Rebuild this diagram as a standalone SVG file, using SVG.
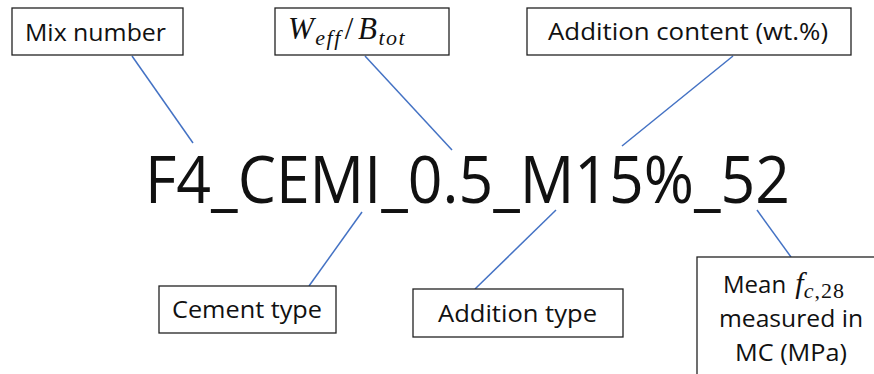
<svg xmlns="http://www.w3.org/2000/svg" width="874" height="374" viewBox="0 0 874 374">
<style>
.box{fill:#fff;stroke:#222;stroke-width:1.3}
.lbl{font-family:"Open Sans","Liberation Sans",sans-serif;font-size:24px;fill:#111}
.math{font-family:"Liberation Serif","DejaVu Serif",serif;font-style:italic;font-weight:normal;fill:#111}
.conn line{stroke:#4472C4;stroke-width:1.5}
</style>
<rect width="874" height="374" fill="#fff"/>
<g class="conn" id="connectors">
<line x1="132" y1="56" x2="193" y2="143"/>
<line x1="365" y1="56" x2="452" y2="150"/>
<line x1="733" y1="56" x2="622" y2="146"/>
<line x1="362" y1="212" x2="309" y2="286"/>
<line x1="556" y1="210" x2="475" y2="289"/>
<line x1="757" y1="210" x2="791" y2="257"/>
</g>
<g id="main">
<text x="145" y="203" font-family="Open Sans, Liberation Sans, sans-serif" font-size="66" fill="#111" textLength="645" lengthAdjust="spacingAndGlyphs">F4_CEMI_0.5_M15%_52</text>
</g>
<g id="mix-number">
<rect class="box" x="12" y="8" width="171" height="47"/>
<text class="lbl" x="25" y="41" textLength="141" lengthAdjust="spacingAndGlyphs">Mix number</text>
</g>
<g id="w-ratio">
<rect class="box" x="275" y="8" width="174" height="47"/>
<text class="math" x="288" y="39" font-size="31" letter-spacing="1.5">W<tspan font-size="22" dy="6">eff</tspan><tspan font-size="31" dy="-6" dx="3" font-style="normal">/</tspan><tspan dx="3">B</tspan><tspan font-size="22" dy="6">tot</tspan></text>
</g>
<g id="addition-content">
<rect class="box" x="527" y="8" width="324" height="47"/>
<text class="lbl" x="548" y="40" textLength="280" lengthAdjust="spacingAndGlyphs">Addition content (wt.%)</text>
</g>
<g id="cement-type">
<rect class="box" x="159" y="286" width="177" height="47"/>
<text class="lbl" x="172" y="318" textLength="150" lengthAdjust="spacingAndGlyphs">Cement type</text>
</g>
<g id="addition-type">
<rect class="box" x="413" y="289" width="210" height="48"/>
<text class="lbl" x="438" y="322" textLength="159" lengthAdjust="spacingAndGlyphs">Addition type</text>
</g>
<g id="mean-fc">
<rect class="box" x="697" y="257" width="190" height="130"/>
<text class="lbl" x="723" y="293">Mean <tspan class="math" font-size="30" dx="3">f</tspan><tspan class="math" font-size="22" dy="5" letter-spacing="1">c</tspan><tspan font-family="Liberation Serif, serif" font-size="22" letter-spacing="1">,28</tspan></text>
<text class="lbl" x="719" y="327" textLength="144" lengthAdjust="spacingAndGlyphs">measured in</text>
<text class="lbl" x="735" y="361" textLength="112" lengthAdjust="spacingAndGlyphs">MC (MPa)</text>
</g>
</svg>
